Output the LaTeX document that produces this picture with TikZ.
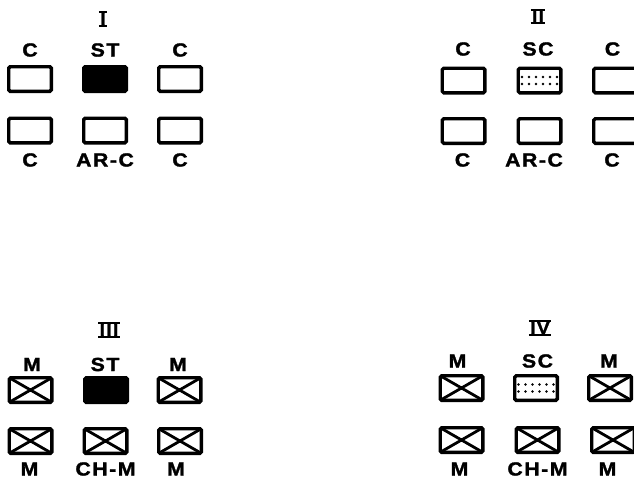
\documentclass[tikz,border=0pt]{standalone}
\usepackage{fontspec}
\newfontfamily\labfont{Liberation Sans}[UprightFont={* Bold},FakeStretch=1.12,LetterSpace=8,FakeBold=1.5]
\tikzset{
  box/.style={draw, line width=3.4pt, rounded corners=1.5pt, minimum width=42.6pt, minimum height=24.6pt, inner sep=0pt, outer sep=0pt},
  solidbox/.style={box, fill=black},
  lab/.style={font=\labfont\fontsize{19}{21}\selectfont, inner sep=0pt},
  num/.style={font=\labfont\fontsize{17}{19}\selectfont, inner xsep=1.5pt, inner ysep=0.8pt, outer sep=0pt},
  bar/.style={line width=2.2pt},
  xline/.style={line width=2.8pt},
}
\newcommand{\crossbox}[1]{\draw[xline] (#1.north west) -- (#1.south east) (#1.south west) -- (#1.north east);}
\newcommand{\numbars}[1]{\draw[bar] (#1.north west) -- (#1.north east) (#1.south west) -- (#1.south east);}
\newcommand{\dotbox}[1]{\foreach \i in {0,...,5} \foreach \j in {-1,1} \fill ([shift={(-17.5pt+7*\i pt,3.5*\j pt)}]#1.center) circle (1.4pt);}
\begin{document}
\begin{tikzpicture}[x=1pt,y=-1pt]
\useasboundingbox (0,0) rectangle (634,479);
% Panel I
\node[num] (n1) at (103,19) {I}; \numbars{n1}
\node[lab] (l1a) at (30,50) {C};
\node[lab] (l1b) at (105,50) {ST};
\node[lab] (l1c) at (180,50) {C};
\node[box] (b1a) at (30,79) {};
\node[solidbox] (b1b) at (105,79) {};
\node[box] (b1c) at (180,79) {};
\node[box] (b1d) at (30,130.5) {};
\node[box] (b1e) at (105,130.5) {};
\node[box] (b1f) at (180,130.5) {};
\node[lab] (l1d) at (30,160) {C};
\node[lab] (l1e) at (105,160) {AR-C};
\node[lab] (l1f) at (180,160) {C};
% Panel II
\node[num] (n2) at (538,16.5) {II}; \numbars{n2}
\node[lab] (l2a) at (463,49) {C};
\node[lab] (l2b) at (538,49) {SC};
\node[lab] (l2c) at (612.5,49) {C};
\node[box] (b2a) at (463.5,80.5) {};
\node[box] (b2b) at (539.5,80.5) {}; \dotbox{b2b}
\node[box] (b2c) at (615,80.5) {};
\node[box] (b2d) at (463.5,131) {};
\node[box] (b2e) at (539.5,131) {};
\node[box] (b2f) at (615,131) {};
\node[lab] (l2d) at (462.5,160) {C};
\node[lab] (l2e) at (534,160) {AR-C};
\node[lab] (l2f) at (612,160) {C};
% Panel III
\node[num] (n3) at (109,330) {III}; \numbars{n3}
\node[lab] (l3a) at (32,364.5) {M};
\node[lab] (l3b) at (105,364.5) {ST};
\node[lab] (l3c) at (178,364.5) {M};
\node[box] (b3a) at (30.5,390) {}; \crossbox{b3a}
\node[solidbox] (b3b) at (106,390) {};
\node[box] (b3c) at (179.5,390) {}; \crossbox{b3c}
\node[box] (b3d) at (30.5,441) {}; \crossbox{b3d}
\node[box] (b3e) at (105.5,441) {}; \crossbox{b3e}
\node[box] (b3f) at (180,441) {}; \crossbox{b3f}
\node[lab] (l3d) at (29.5,469) {M};
\node[lab] (l3e) at (105.5,469) {CH-M};
\node[lab] (l3f) at (176,469) {M};
% Panel IV
\node[num] (n4) at (540,328) {IV}; \numbars{n4}
\node[lab] (l4a) at (457.5,361) {M};
\node[lab] (l4b) at (537.5,361) {SC};
\node[lab] (l4c) at (609,361) {M};
\node[box] (b4a) at (461.5,388) {}; \crossbox{b4a}
\node[box] (b4b) at (536,388) {}; \dotbox{b4b}
\node[box] (b4c) at (610,388) {}; \crossbox{b4c}
\node[box] (b4d) at (461.5,440) {}; \crossbox{b4d}
\node[box] (b4e) at (537.5,440) {}; \crossbox{b4e}
\node[box] (b4f) at (613,440) {}; \crossbox{b4f}
\node[lab] (l4d) at (459.5,469) {M};
\node[lab] (l4e) at (537.5,469) {CH-M};
\node[lab] (l4f) at (607.5,469) {M};
\end{tikzpicture}
\end{document}
